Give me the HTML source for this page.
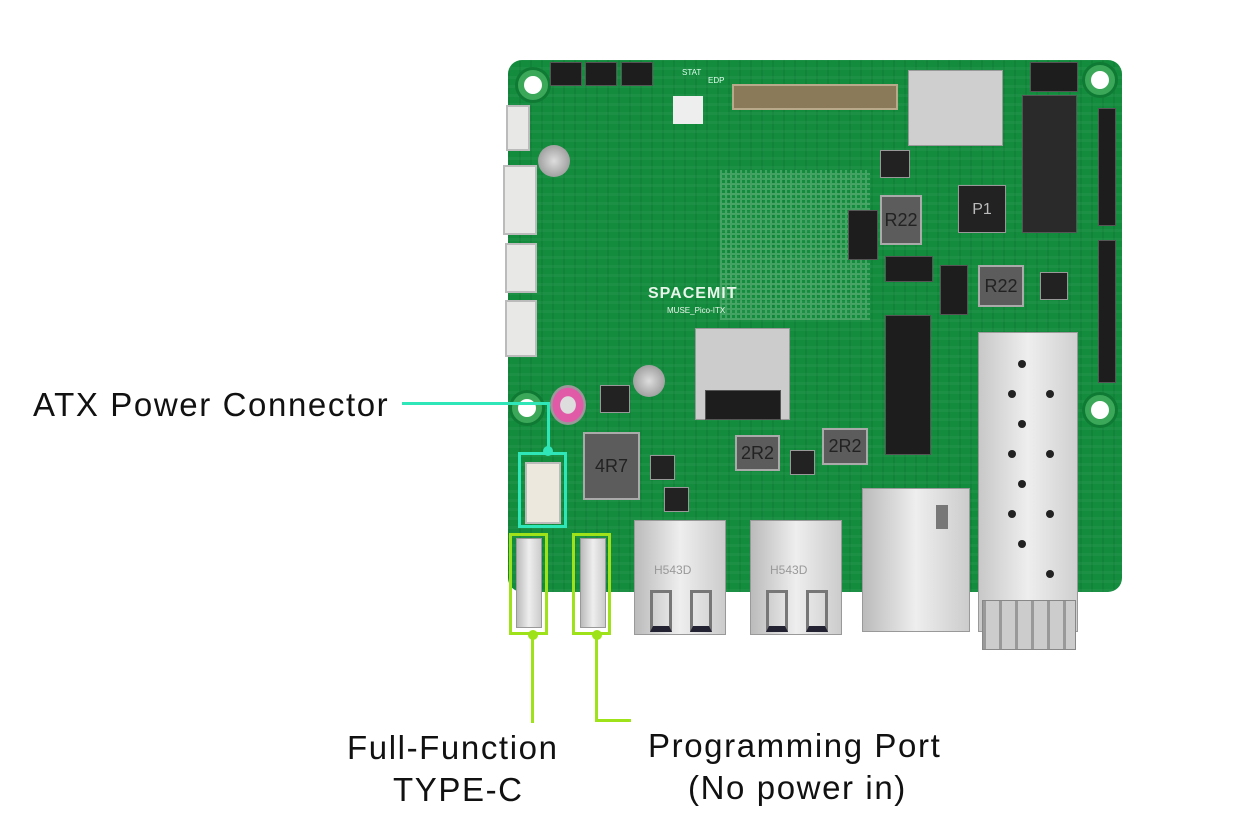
<!DOCTYPE html>
<html><head><meta charset="utf-8"><style>
body{margin:0;width:1241px;height:836px;background:#fff;position:relative;overflow:hidden;font-family:"Liberation Sans","DejaVu Sans",sans-serif}
div{position:absolute;box-sizing:border-box}
.lbl{font-size:33px;color:#111;white-space:nowrap;line-height:1;letter-spacing:1.6px}
.hole{border-radius:50%;background:#fff;border:6px solid #3aa858;box-shadow:0 0 0 3px #0f7a33}
.blk{background:#1d1d1d;border:1px solid #555}
.gray{background:#5c5c5c;border:2px solid #aaa;color:#222;font-size:18px;text-align:center}
.slv{background:linear-gradient(90deg,#bbb,#eee,#ccc);border:1px solid #999}
.wh{background:#e8e8e6;border:2px solid #bbb}
.chip{background:#222;border:1px solid #999}
</style></head><body>
<div style="left:508px;top:60px;width:614px;height:532px;background:#138c3d;border-radius:14px"></div>
<div style="left:508px;top:60px;width:614px;height:532px;border-radius:14px;background:repeating-linear-gradient(0deg,rgba(255,255,255,0.04) 0 3px,transparent 3px 9px),repeating-linear-gradient(90deg,rgba(0,0,0,0.05) 0 2px,transparent 2px 11px)"></div>
<div style="left:720px;top:170px;width:150px;height:150px;background:repeating-linear-gradient(90deg,#7fc08f 0 2px,transparent 2px 5px),repeating-linear-gradient(0deg,#7fc08f 0 2px,transparent 2px 5px);opacity:.45"></div>
<div class="hole" style="left:518px;top:70px;width:30px;height:30px"></div>
<div class="hole" style="left:1085px;top:65px;width:30px;height:30px"></div>
<div class="hole" style="left:512px;top:393px;width:30px;height:30px"></div>
<div class="hole" style="left:1085px;top:395px;width:30px;height:30px"></div>
<div class="blk" style="left:550px;top:62px;width:32px;height:24px"></div>
<div class="blk" style="left:585px;top:62px;width:32px;height:24px"></div>
<div class="blk" style="left:621px;top:62px;width:32px;height:24px"></div>
<div style="left:682px;top:68px;font-size:8px;color:#dfe">STAT</div>
<div style="left:708px;top:76px;font-size:8px;color:#dfe">EDP</div>
<div style="left:673px;top:96px;width:30px;height:28px;background:#eee"></div>
<div style="left:732px;top:84px;width:166px;height:26px;background:#8a7a5a;border:2px solid #b7a98a"></div>
<div class="slv" style="left:908px;top:70px;width:95px;height:76px;background:#cfcfcf"></div>
<div class="blk" style="left:1030px;top:62px;width:48px;height:30px"></div>
<div class="blk" style="left:1022px;top:95px;width:55px;height:138px;background:#2a2a2a"></div>
<div class="blk" style="left:1098px;top:108px;width:18px;height:118px"></div>
<div class="blk" style="left:1098px;top:240px;width:18px;height:143px"></div>
<div class="chip" style="left:958px;top:185px;width:48px;height:48px;color:#bbb;font-size:16px;text-align:center;line-height:48px">P1</div>
<div class="chip" style="left:880px;top:150px;width:30px;height:28px"></div>
<div class="gray" style="left:880px;top:195px;width:42px;height:50px;line-height:46px">R22</div>
<div class="gray" style="left:978px;top:265px;width:46px;height:42px;line-height:38px">R22</div>
<div class="blk" style="left:848px;top:210px;width:30px;height:50px"></div>
<div class="blk" style="left:885px;top:256px;width:48px;height:26px"></div>
<div class="blk" style="left:940px;top:265px;width:28px;height:50px"></div>
<div class="chip" style="left:1040px;top:272px;width:28px;height:28px"></div>
<div class="wh" style="left:506px;top:105px;width:24px;height:46px"></div>
<div class="wh" style="left:503px;top:165px;width:34px;height:70px"></div>
<div class="wh" style="left:505px;top:243px;width:32px;height:50px"></div>
<div class="wh" style="left:505px;top:300px;width:32px;height:57px"></div>
<div style="left:538px;top:145px;width:32px;height:32px;border-radius:50%;background:radial-gradient(#ddd,#888)"></div>
<div style="left:633px;top:365px;width:32px;height:32px;border-radius:50%;background:radial-gradient(#ddd,#888)"></div>
<div style="left:648px;top:285px;font-size:16px;font-weight:bold;color:#e8f5ea;letter-spacing:1px">SPACEMIT</div>
<div style="left:667px;top:306px;font-size:8px;color:#e8f5ea">MUSE_Pico-ITX</div>
<div class="slv" style="left:695px;top:328px;width:95px;height:92px;background:#ccc"></div>
<div class="blk" style="left:705px;top:390px;width:76px;height:30px"></div>
<div class="blk" style="left:885px;top:315px;width:46px;height:140px"></div>
<div style="left:550px;top:385px;width:36px;height:40px;border-radius:50%;background:radial-gradient(#ddd 30%,#e05aa8 32%,#e05aa8 60%,#999 62%)"></div>
<div class="chip" style="left:600px;top:385px;width:30px;height:28px"></div>
<div class="gray" style="left:583px;top:432px;width:57px;height:68px;line-height:64px">4R7</div>
<div class="gray" style="left:735px;top:435px;width:45px;height:36px;line-height:32px">2R2</div>
<div class="gray" style="left:822px;top:428px;width:46px;height:37px;line-height:33px">2R2</div>
<div class="chip" style="left:650px;top:455px;width:25px;height:25px"></div>
<div class="chip" style="left:790px;top:450px;width:25px;height:25px"></div>
<div class="chip" style="left:664px;top:487px;width:25px;height:25px"></div>
<div class="wh" style="left:525px;top:462px;width:36px;height:62px;background:#ece8dd"></div>
<div class="slv" style="left:516px;top:538px;width:26px;height:90px"></div>
<div class="slv" style="left:580px;top:538px;width:26px;height:90px"></div>
<div class="slv" style="left:634px;top:520px;width:92px;height:115px"></div>
<div style="left:654px;top:563px;font-size:12px;color:#999">H543D</div>
<div class="slv" style="left:750px;top:520px;width:92px;height:115px"></div>
<div style="left:770px;top:563px;font-size:12px;color:#999">H543D</div>
<div style="left:650px;top:590px;width:22px;height:42px;border:3px solid #777;border-bottom:6px solid #223"></div>
<div style="left:690px;top:590px;width:22px;height:42px;border:3px solid #777;border-bottom:6px solid #223"></div>
<div style="left:766px;top:590px;width:22px;height:42px;border:3px solid #777;border-bottom:6px solid #223"></div>
<div style="left:806px;top:590px;width:22px;height:42px;border:3px solid #777;border-bottom:6px solid #223"></div>
<div class="slv" style="left:862px;top:488px;width:108px;height:144px"></div>
<div style="left:936px;top:505px;width:12px;height:24px;background:#777"></div>
<div class="slv" style="left:978px;top:332px;width:100px;height:300px;background:linear-gradient(90deg,#c8c8c8,#eee,#d0d0d0)"></div>
<div style="left:982px;top:600px;width:94px;height:50px;background:repeating-linear-gradient(90deg,#999 0 3px,#ccc 3px 16px);border:1px solid #888"></div>
<div style="left:1018px;top:360px;width:8px;height:8px;border-radius:50%;background:#222;box-shadow:28px 30px 0 #222,-10px 30px 0 #222,0 60px 0 #222,28px 90px 0 #222,-10px 90px 0 #222,0 120px 0 #222,28px 150px 0 #222,-10px 150px 0 #222,0 180px 0 #222,28px 210px 0 #222"></div>
<div class="lbl" style="left:33px;top:388px">ATX Power Connector</div>
<div style="left:402px;top:402px;width:148px;height:3px;background:#2ee6b8"></div>
<div style="left:547px;top:402px;width:3px;height:52px;background:#2ee6b8"></div>
<div style="left:518px;top:452px;width:49px;height:76px;border:3px solid #2ee6b8"></div>
<div style="left:543px;top:446px;width:10px;height:10px;border-radius:50%;background:#2ee6b8"></div>
<div style="left:509px;top:533px;width:39px;height:102px;border:3px solid #9ee31a"></div>
<div style="left:572px;top:533px;width:39px;height:102px;border:3px solid #9ee31a"></div>
<div style="left:528px;top:630px;width:10px;height:10px;border-radius:50%;background:#9ee31a"></div>
<div style="left:592px;top:630px;width:10px;height:10px;border-radius:50%;background:#9ee31a"></div>
<div style="left:531px;top:635px;width:3px;height:88px;background:#9ee31a"></div>
<div style="left:595px;top:635px;width:3px;height:87px;background:#9ee31a"></div>
<div style="left:595px;top:719px;width:36px;height:3px;background:#9ee31a"></div>
<div class="lbl" style="left:347px;top:731px">Full-Function</div>
<div class="lbl" style="left:393px;top:773px">TYPE-C</div>
<div class="lbl" style="left:648px;top:729px">Programming Port</div>
<div class="lbl" style="left:688px;top:771px">(No power in)</div>
</body></html>
